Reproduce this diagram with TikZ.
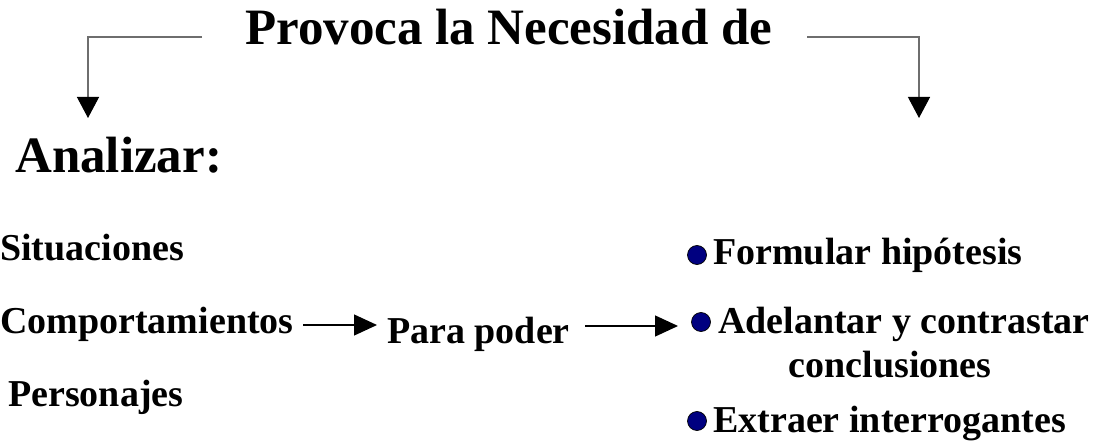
\documentclass[tikz,border=0pt]{standalone}
\usepackage{fontspec}
\setmainfont{Liberation Serif}
\usetikzlibrary{arrows.meta}
\definecolor{bulletblue}{RGB}{0,0,128}
\definecolor{linegray}{RGB}{110,110,110}
\tikzset{
  txt/.style={anchor=base west, inner sep=0pt, font=\bfseries\fontsize{38}{44}\selectfont},
  big/.style={anchor=base west, inner sep=0pt, font=\bfseries\fontsize{51}{60}\selectfont},
  connector/.style={draw=linegray, line width=1.2pt, -{Triangle[length=21pt,width=22pt,color=black]}},
  flow/.style={draw=black, line width=1.3pt, -{Triangle[length=23pt,width=21pt]}},
  bul/.style={circle, draw=black, line width=0.7pt, fill=bulletblue, minimum size=19pt, inner sep=0pt}
}
\begin{document}
\begin{tikzpicture}[x=1pt,y=-1pt]
\useasboundingbox (0,0) rectangle (1096,441);
% title
\node[big] (title) at (245,45) {Provoca la Necesidad de};
\coordinate (ls) at (202,37);
\coordinate (lc) at (88,37);
\coordinate (le) at (88,118);
\coordinate (rs) at (807,37);
\coordinate (rc) at (919,37);
\coordinate (re) at (919,118);
\draw[connector] (ls) -- (lc) -- (le);
\draw[connector] (rs) -- (rc) -- (re);
% left
\node[big] (anal) at (15,173) {Analizar:};
\node[txt] (sit) at (0,260) {Situaciones};
\node[txt] (comp) at (0,333) {Comportamientos};
\node[txt] (pers) at (8,406) {Personajes};
\node[txt] (para) at (387,343) {Para poder};
% right
\node[bul] (b1) at (697,255) {};
\node[txt] (form) at (713,265) {Formular hipótesis};
\node[bul] (b2) at (701,322) {};
\node[txt] (adel) at (718,333) {Adelantar y contrastar};
\node[txt, anchor=base] (concl) at (890,377) {conclusiones};
\node[bul] (b3) at (697,421) {};
\node[txt] (extr) at (713,432) {Extraer interrogantes};
% flow arrows
\coordinate (a1s) at (303,325);
\coordinate (a1e) at (377,325);
\coordinate (a2s) at (585,326);
\coordinate (a2e) at (678,326);
\draw[flow] (a1s) -- (a1e);
\draw[flow] (a2s) -- (a2e);
\end{tikzpicture}
\end{document}
